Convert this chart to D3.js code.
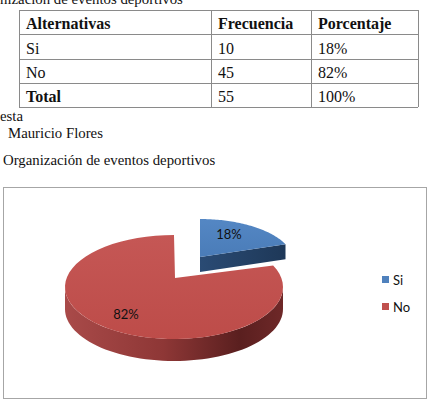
<!DOCTYPE html>
<html>
<head>
<meta charset="utf-8">
<script src="https://cdn.jsdelivr.net/npm/d3@7"></script>
<style>
  body { margin: 0; background: #fff; }
  svg { display: block; }
</style>
</head>
<body>
<div id="chart"></div>
<script>
// table + chart data
var headers = ["Alternativas", "Frecuencia", "Porcentaje"];
var categories = ["Si", "No"];
var frequencies = [10, 45];
var percentLabels = ["18%", "82%"];
var totalRow = ["Total", "55", "100%"];

var W = 430, H = 404;
var svg = d3.select("#chart").append("svg")
  .attr("width", W)
  .attr("height", H);

var serif = "'Liberation Serif', 'Times New Roman', serif";
var sans = "Lato, 'Open Sans', sans-serif";
var capSize = 14.8;

// clipped caption above the table
svg.append("text")
  .attr("x", 0).attr("y", 4)
  .attr("font-family", serif).attr("font-size", capSize)
  .attr("fill", "#111")
  .text("nización de eventos deportivos");

// ---- table ----
var colX = d3.scaleOrdinal().domain([0, 1, 2]).range([19, 211, 311]);
var tableRight = 418;
var rows = [headers]
  .concat(categories.map(function(c, i) { return [c, String(frequencies[i]), percentLabels[i]]; }))
  .concat([totalRow]);
var rowY = d3.scaleBand().domain(d3.range(rows.length)).range([10, 107]);

var table = svg.append("g");
rows.forEach(function(r, i) {
  r.forEach(function(cell, j) {
    table.append("text")
      .attr("x", colX(j) + 7)
      .attr("y", rowY(i) + rowY.bandwidth() - 5)
      .attr("font-family", serif)
      .attr("font-size", 16)
      .attr("font-weight", (i === 0 || (i === rows.length - 1 && j === 0)) ? "bold" : "normal")
      .attr("fill", "#111")
      .text(cell);
  });
});
// grid lines
d3.range(rows.length + 1).forEach(function(i) {
  var y = i < rows.length ? rowY(i) : 107;
  table.append("line")
    .attr("x1", 19).attr("x2", tableRight)
    .attr("y1", Math.round(y) + 0.5).attr("y2", Math.round(y) + 0.5)
    .attr("stroke", "#8a8a8a");
});
[0, 1, 2].forEach(function(j) {
  table.append("line")
    .attr("x1", colX(j) + 0.5).attr("x2", colX(j) + 0.5)
    .attr("y1", 10).attr("y2", 107)
    .attr("stroke", "#8a8a8a");
});
table.append("line")
  .attr("x1", tableRight + 0.5).attr("x2", tableRight + 0.5)
  .attr("y1", 10).attr("y2", 107)
  .attr("stroke", "#8a8a8a");

svg.append("text").attr("x", 0).attr("y", 121)
  .attr("font-family", serif).attr("font-size", capSize).attr("fill", "#111")
  .text("esta");
svg.append("text").attr("x", 8).attr("y", 138)
  .attr("font-family", serif).attr("font-size", capSize).attr("fill", "#111")
  .text("Mauricio Flores");
svg.append("text").attr("x", 3).attr("y", 165)
  .attr("font-family", serif).attr("font-size", capSize).attr("fill", "#111")
  .text("Organización de eventos deportivos");

// ---- chart box ----
svg.append("rect")
  .attr("x", 3.5).attr("y", 187.5)
  .attr("width", 423).attr("height", 211)
  .attr("fill", "#fff")
  .attr("stroke", "#a6a6a6");

var defs = svg.append("defs");
var gSide = defs.append("linearGradient").attr("id", "redSide")
  .attr("x1", "0").attr("x2", "1").attr("y1", "0").attr("y2", "0");
[[0, "#a94a49"], [0.45, "#8e3736"], [0.8, "#5a1f1f"], [1, "#6e2828"]].forEach(function(s) {
  gSide.append("stop").attr("offset", s[0]).attr("stop-color", s[1]);
});
var gTop = defs.append("linearGradient").attr("id", "redTop")
  .attr("x1", "0").attr("x2", "0").attr("y1", "0").attr("y2", "1");
gTop.append("stop").attr("offset", 0).attr("stop-color", "#c55755");
gTop.append("stop").attr("offset", 1).attr("stop-color", "#bd4c49");
var bTop = defs.append("linearGradient").attr("id", "blueTop")
  .attr("x1", "0").attr("x2", "0").attr("y1", "0").attr("y2", "1");
bTop.append("stop").attr("offset", 0).attr("stop-color", "#5487c4");
bTop.append("stop").attr("offset", 1).attr("stop-color", "#4a7cb8");
var bSide = defs.append("linearGradient").attr("id", "blueSide")
  .attr("x1", "0").attr("x2", "1").attr("y1", "0").attr("y2", "0");
bSide.append("stop").attr("offset", 0).attr("stop-color", "#2a4b74");
bSide.append("stop").attr("offset", 1).attr("stop-color", "#1e3858");

// ---- 3D pie ----
var pie = d3.pie().sort(null).value(function(d) { return d; });
var arcs = pie(frequencies);

// per-slice ellipse geometry (blue one is exploded back/right)
var shapes = [
  { ax: 200, ay: 257, cx: 200, cy: 262, rx: 94, ry: 43, depth: 15,
    top: "url(#blueTop)", side: "url(#blueSide)" },
  { ax: 175, ay: 278, cx: 174, cy: 287, rx: 109, ry: 52, depth: 22,
    top: "url(#redTop)", side: "url(#redSide)" }
];

function rim(s, t) {
  return [s.cx + s.rx * Math.sin(t), s.cy - s.ry * Math.cos(t)];
}
var line = d3.line();

var pieG = svg.append("g");
// draw blue (index 0) first, red in front
arcs.forEach(function(a, i) {
  var s = shapes[i];
  var steps = d3.range(0, 61).map(function(k) { return a.startAngle + (a.endAngle - a.startAngle) * k / 60; });

  // curved outer wall (front half only)
  var lo = Math.max(a.startAngle, Math.PI / 2), hi = Math.min(a.endAngle, 3 * Math.PI / 2);
  if (hi > lo) {
    var ts = d3.range(0, 61).map(function(k) { return lo + (hi - lo) * k / 60; });
    var upper = ts.map(function(t) { return rim(s, t); });
    var lower = ts.slice().reverse().map(function(t) { var p = rim(s, t); return [p[0], p[1] + s.depth]; });
    pieG.append("path")
      .attr("d", line(upper.concat(lower)) + "Z")
      .attr("fill", s.side);
  }
  // radial wall at end angle (visible when facing viewer)
  if (a.endAngle < Math.PI) {
    var p = rim(s, a.endAngle);
    pieG.append("path")
      .attr("d", line([[s.ax, s.ay], p, [p[0], p[1] + s.depth], [s.ax, s.ay + s.depth]]) + "Z")
      .attr("fill", s.side);
  }
  // top face
  var pts = [[s.ax, s.ay]].concat(steps.map(function(t) { return rim(s, t); }));
  pieG.append("path")
    .attr("d", line(pts) + "Z")
    .attr("fill", s.top);
});

// data labels
var labelPos = [[229, 239], [126, 319]];
percentLabels.forEach(function(l, i) {
  svg.append("text")
    .attr("x", labelPos[i][0]).attr("y", labelPos[i][1])
    .attr("text-anchor", "middle")
    .attr("font-family", sans).attr("font-size", 13)
    .attr("fill", "#111")
    .text(l);
});

// legend
var legendColors = ["#4f81bd", "#c0504d"];
var legY = d3.scalePoint().domain(categories).range([280, 307]);
categories.forEach(function(c, i) {
  svg.append("rect")
    .attr("x", 382).attr("y", legY(c) - 4)
    .attr("width", 7).attr("height", 7)
    .attr("fill", legendColors[i]);
  svg.append("text")
    .attr("x", 393).attr("y", legY(c) + 4.5)
    .attr("font-family", sans).attr("font-size", 13)
    .attr("fill", "#111")
    .text(c);
});
</script>
</body>
</html>
